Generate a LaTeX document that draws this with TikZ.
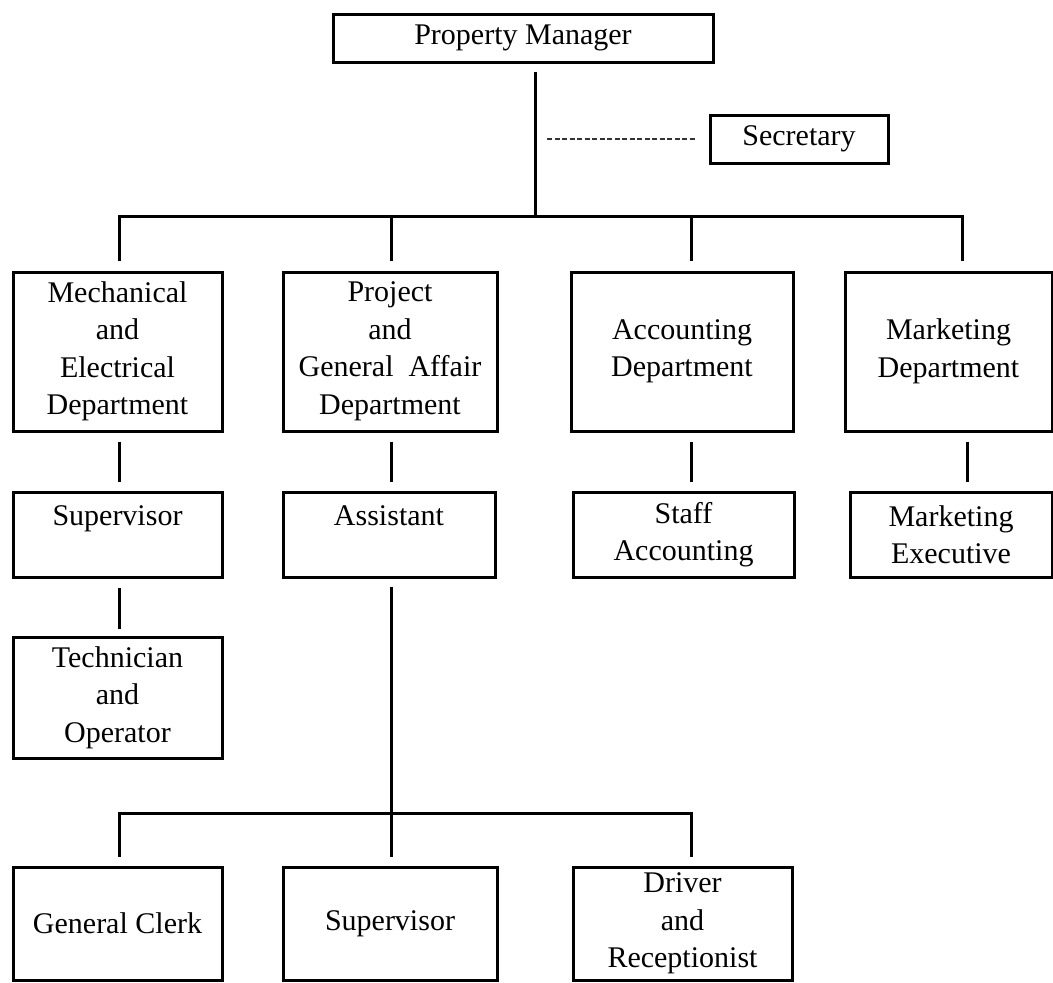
\documentclass[tikz,border=0pt]{standalone}
\usepackage{fontspec}
\setmainfont{Liberation Serif}
\newcommand\orgfont{\fontsize{30}{37.5}\selectfont}
\tikzset{
  orgbox/.style={draw, line width=3pt, align=center, inner sep=0pt, font=\orgfont, rectangle},
  conn/.style={line width=3pt, line join=miter},
  dotconn/.style={line width=1.5pt, dash pattern=on 5pt off 2.5pt, black!80},
}
% \orgbx{name}{x1}{y1}{x2}{y2}{text}
\newcommand\orgbx[6]{%
  \node[orgbox, minimum width={(#4-#2)*1pt}, minimum height={(#5-#3)*1pt}]
    (#1) at ({(#2+#4)/2},{(#3+#5)/2}) {#6};}
\begin{document}
\begin{tikzpicture}[x=1pt, y=-1pt]
\useasboundingbox (0,0) rectangle (1053,983);
% column coordinates
\coordinate (c1) at (119,0);
\coordinate (c2) at (391,0);
\coordinate (c3) at (691,0);
\coordinate (c4) at (962,0);
\coordinate (c4b) at (967,0);
\coordinate (cpm) at (535,0);
\coordinate (bus1) at (0,216);
\coordinate (bus2) at (0,813);

% boxes
\orgbx{pm}{333}{14}{713}{62}{Property Manager}
\orgbx{sec}{710}{115}{888}{163}{Secretary}

\orgbx{mech}{13}{272}{222}{431}{Mechanical\\and\\Electrical\\Department}
\orgbx{proj}{283}{272}{497}{431}{Project\\and\\General\ \ Affair\\Department}
\orgbx{acc}{571}{272}{793}{431}{Accounting\\Department}
\orgbx{mkt}{845}{272}{1052}{431}{Marketing\\Department}

\orgbx{sup}{13}{492}{222}{577}{Supervisor\\\mbox{}}
\orgbx{asst}{283}{492}{495}{577}{Assistant\\\mbox{}}
\orgbx{staff}{573}{492}{794}{577}{Staff\\Accounting}
\orgbx{mexe}{850}{492}{1052}{577}{Marketing\\Executive}

\orgbx{tech}{13}{637}{222}{758}{Technician\\and\\Operator}

\orgbx{clerk}{13}{867}{222}{980}{General Clerk}
\orgbx{sup2}{283}{867}{497}{980}{Supervisor}
\orgbx{drv}{573}{867}{792}{980}{Driver\\and\\Receptionist}

% top connectors
\draw[conn, shorten <=8pt] (pm.south -| cpm) -- (cpm |- bus1);
\draw[dotconn, shorten <=12pt, shorten >=13pt] (cpm |- sec.west) -- (sec.west);
\draw[conn, shorten <=10pt, shorten >=10pt]
  (mech.north -| c1) -- (c1 |- bus1) -- (c4 |- bus1) -- (mkt.north -| c4);
\draw[conn, shorten >=10pt] (c2 |- bus1) -- (proj.north -| c2);
\draw[conn, shorten >=10pt] (c3 |- bus1) -- (acc.north -| c3);

% department to level 2
\draw[conn, shorten <=9pt, shorten >=9pt] (mech.south -| c1) -- (sup.north -| c1);
\draw[conn, shorten <=9pt, shorten >=9pt] (proj.south -| c2) -- (asst.north -| c2);
\draw[conn, shorten <=9pt, shorten >=9pt] (acc.south -| c3) -- (staff.north -| c3);
\draw[conn, shorten <=9pt, shorten >=9pt] (mkt.south -| c4b) -- (mexe.north -| c4b);

% supervisor to technician
\draw[conn, shorten <=9pt, shorten >=7pt] (sup.south -| c1) -- (tech.north -| c1);

% assistant to bottom row
\draw[conn, shorten <=8pt, shorten >=9pt] (asst.south -| c2) -- (sup2.north -| c2);
\draw[conn, shorten <=9pt, shorten >=9pt]
  (clerk.north -| c1) -- (c1 |- bus2) -- (c3 |- bus2) -- (drv.north -| c3);
\end{tikzpicture}
\end{document}
